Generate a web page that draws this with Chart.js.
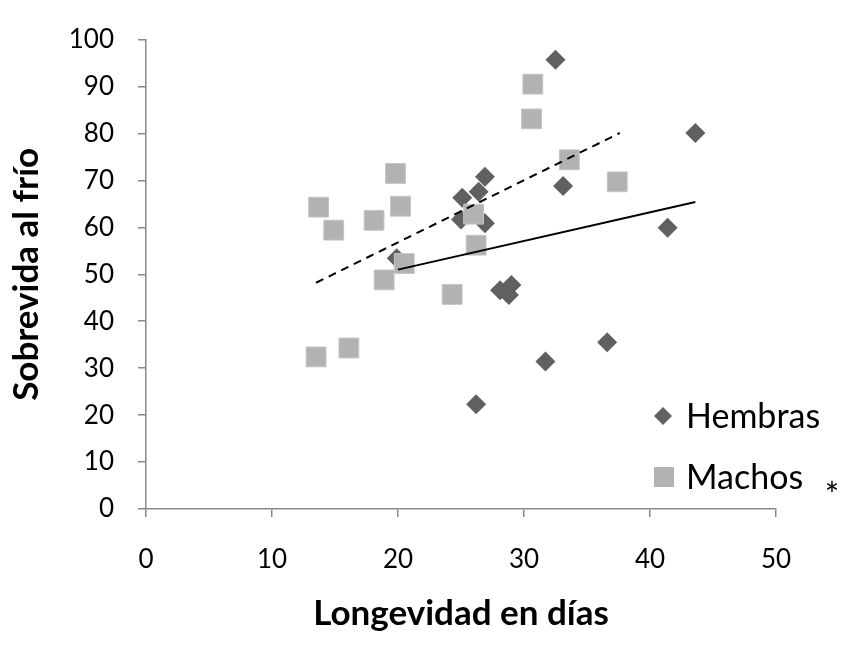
<!DOCTYPE html>
<html>
<head>
<meta charset="utf-8">
<script src="https://cdn.jsdelivr.net/npm/chart.js@4"></script>
<style>
  html, body { margin: 0; padding: 0; background: #fff; }
  #wrap { width: 842px; height: 645px; position: relative; }
</style>
</head>
<body>
<div id="wrap"><canvas id="chart"></canvas></div>
<script>
// values
var hembrasX = [32.5, 43.6, 33.1, 26.9, 26.4, 25.1, 25.0, 26.9, 41.4, 19.9, 28.1, 29.0, 28.8, 31.7, 26.2, 36.6];
var hembrasY = [95.7, 80.1, 68.8, 70.8, 67.6, 66.3, 61.7, 60.9, 59.9, 53.4, 46.6, 47.7, 45.6, 31.4, 22.3, 35.5];

var machosX = [30.7, 30.6, 33.6, 37.4, 19.8, 20.2, 13.7, 14.9, 18.1, 26.0, 26.2, 20.5, 18.9, 24.3, 16.1, 13.5];
var machosY = [90.5, 83.1, 74.4, 69.7, 71.5, 64.5, 64.3, 59.4, 61.5, 62.8, 56.2, 52.3, 48.8, 45.7, 34.3, 32.4];

// trend line end points
var hembrasTrendX = [20.0, 43.6];
var hembrasTrendY = [51.0, 65.4];
var machosTrendX = [13.5, 37.6];
var machosTrendY = [48.2, 80.1];

var xTicks = [0, 10, 20, 30, 40, 50];
var yTicks = [0, 10, 20, 30, 40, 50, 60, 70, 80, 90, 100];

var seriesNames = ['Hembras', 'Machos'];

function toPoints(xs, ys) {
    var pts = [];
    for (var i = 0; i < xs.length; i++) {
        pts.push({x: xs[i], y: ys[i]});
    }
    return pts;
}

var axisColor = '#898989';
var fontFam = 'Lato, "Open Sans", sans-serif';

// legend drawn inside the plot, bottom right
var legendPlugin = {
    id: 'innerLegend',
    afterDraw: function(chart) {
        var ctx = chart.ctx;
        var items = [
            {ds: chart.data.datasets[0], cx: 663, cy: 416},
            {ds: chart.data.datasets[1], cx: 664, cy: 477}
        ];
        ctx.save();
        items.forEach(function(it) {
            var ds = it.ds;
            ctx.fillStyle = ds.backgroundColor;
            ctx.beginPath();
            if (ds.pointStyle === 'rectRot') {
                var r = 9;
                ctx.moveTo(it.cx, it.cy - r);
                ctx.lineTo(it.cx + r, it.cy);
                ctx.lineTo(it.cx, it.cy + r);
                ctx.lineTo(it.cx - r, it.cy);
            } else {
                ctx.rect(it.cx - 10, it.cy - 10, 20, 20);
            }
            ctx.closePath();
            ctx.fill();
            ctx.fillStyle = '#000';
            ctx.font = '34px ' + fontFam;
            ctx.textBaseline = 'middle';
            ctx.textAlign = 'left';
            ctx.fillText(ds.label, 686, it.cy + 1);
        });
        ctx.font = '34px ' + fontFam;
        ctx.textAlign = 'center';
        ctx.textBaseline = 'alphabetic';
        ctx.fillText('*', 832, 507);
        ctx.restore();
    }
};

var ctx = document.getElementById('chart').getContext('2d');
var myChart = new Chart(ctx, {
    type: 'scatter',
    data: {
        datasets: [
            {
                label: seriesNames[0],
                data: toPoints(hembrasX, hembrasY),
                pointStyle: 'rectRot',
                pointRadius: 10,
                pointHoverRadius: 10,
                backgroundColor: '#606060',
                borderColor: '#606060',
                pointBorderWidth: 0,
                order: 4
            },
            {
                label: seriesNames[1],
                data: toPoints(machosX, machosY),
                pointStyle: 'rect',
                pointRadius: 14,
                pointHoverRadius: 14,
                backgroundColor: '#b2b2b2',
                borderColor: '#c4c4c4',
                pointBorderWidth: 1,
                order: 3
            },
            {
                label: 'Tendencia Hembras',
                data: toPoints(hembrasTrendX, hembrasTrendY),
                showLine: true,
                pointRadius: 0,
                borderColor: '#000',
                borderWidth: 2,
                fill: false,
                order: 2
            },
            {
                label: 'Tendencia Machos',
                data: toPoints(machosTrendX, machosTrendY),
                showLine: true,
                pointRadius: 0,
                borderColor: '#000',
                borderWidth: 2,
                borderDash: [8, 6],
                fill: false,
                order: 1
            }
        ]
    },
    options: {
        responsive: true,
        maintainAspectRatio: false,
        animation: false,
        layout: { padding: { left: 0, right: 66, top: 21, bottom: 0 } },
        plugins: {
            legend: { display: false },
            tooltip: { enabled: false }
        },
        scales: {
            x: {
                type: 'linear',
                min: 0,
                max: 50,
                afterBuildTicks: function(scale) {
                    scale.ticks = xTicks.map(function(v) { return {value: v}; });
                },
                afterFit: function(scale) { scale.height = 136; },
                border: { display: true, color: axisColor, width: 1.5 },
                grid: { display: true, drawOnChartArea: false, drawTicks: true, tickLength: 8, color: axisColor, lineWidth: 1.5 },
                ticks: { color: '#000', font: { family: fontFam, size: 26 }, padding: 27, maxRotation: 0 },
                title: {
                    display: true,
                    text: 'Longevidad en días',
                    color: '#000',
                    font: { family: fontFam, size: 35, weight: 'bold' },
                    padding: { top: 0, bottom: 10 }
                }
            },
            y: {
                type: 'linear',
                min: 0,
                max: 100,
                afterBuildTicks: function(scale) {
                    scale.ticks = yTicks.map(function(v) { return {value: v}; });
                },
                afterFit: function(scale) { scale.width = 146; },
                border: { display: true, color: axisColor, width: 1.5 },
                grid: { display: true, drawOnChartArea: false, drawTicks: true, tickLength: 8, color: axisColor, lineWidth: 1.5 },
                ticks: { color: '#000', font: { family: fontFam, size: 26 }, padding: 24 },
                title: {
                    display: true,
                    text: 'Sobrevida al frío',
                    color: '#000',
                    font: { family: fontFam, size: 35, weight: 'bold' },
                    padding: { top: 6, bottom: 0 }
                }
            }
        }
    },
    plugins: [legendPlugin]
});
</script>
</body>
</html>
